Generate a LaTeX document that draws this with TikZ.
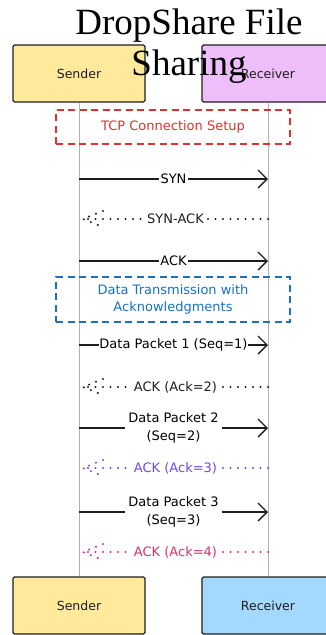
\documentclass[tikz,border=0pt]{standalone}
\usepackage{fontspec}
\setmainfont{Liberation Serif}
\newfontfamily\hand{DejaVu Sans}
\usetikzlibrary{arrows.meta}
\definecolor{ink}{HTML}{1E1E1E}
\definecolor{sendfill}{HTML}{FFE99A}
\definecolor{recvtop}{HTML}{EEBEFA}
\definecolor{recvbot}{HTML}{A5D8FF}
\definecolor{lifegray}{HTML}{B4B4B4}
\definecolor{tcpred}{HTML}{E03131}
\definecolor{datablue}{HTML}{1971C2}
\definecolor{ackpurple}{HTML}{7048E8}
\definecolor{ackpink}{HTML}{D6336C}
\begin{document}
\begin{tikzpicture}[x=1pt,y=-1pt,
  actor/.style={draw=ink, line width=1.4pt, rounded corners=1.5pt, minimum width=132pt, minimum height=57pt, inner sep=0pt, font=\hand\fontsize{12.5}{15}\selectfont, text=ink},
  lifeline/.style={draw=lifegray, line width=0.9pt},
  phase/.style={dash pattern=on 7pt off 4.5pt, line width=1.5pt, minimum width=234pt, inner sep=0pt, align=center, font=\hand\fontsize{13}{17}\selectfont},
  msg/.style={draw=ink, line width=1.4pt, -{Straight Barb[length=9pt,width=18pt,line width=1.4pt]}},
  ret/.style={line width=2.3pt, dash pattern=on 0pt off 7.5pt, line cap=round},
  lbl/.style={fill=white, inner sep=1.5pt, align=center, font=\hand\fontsize{13}{17.5}\selectfont},
]
\useasboundingbox (0,0) rectangle (326,635);

% actors
\node[actor, fill=sendfill] (st) at (79,73.5) {Sender};
\node[actor, fill=recvtop] (rt) at (268,73.5) {Receiver};
\node[actor, fill=sendfill] (sb) at (79,605.5) {Sender};
\node[actor, fill=recvbot] (rb) at (268,605.5) {Receiver};

% lifelines
\draw[lifeline] (st.south) -- (sb.north);
\draw[lifeline] (rt.south) -- (rb.north);

% title, drawn over the boxes
\node[anchor=north, inner sep=0pt, align=center, font=\fontsize{37}{41}\selectfont] (title) at (189,9) {DropShare File\\Sharing};

% phase boxes
\node[phase, draw=tcpred, text=tcpred, minimum height=34pt] (tcp) at (173,127) {TCP Connection Setup};
\node[phase, draw=datablue, text=datablue, minimum height=45pt] (data) at (173,299.5) {Data Transmission with\\Acknowledgments};

% message coordinates
\foreach \n/\y in {1/179,2/219,3/261,4/345,5/387,6/428,7/468,8/512,9/552}{
  \coordinate (s\n) at (79,\y);
  \coordinate (r\n) at (268,\y);
  \coordinate (t\n) at (83,\y);
}

% messages
\draw[msg] (s1) -- (r1) node[lbl, midway] {SYN};
\draw[ret, draw=ink] (r2) -- (t2) node[lbl, midway, text=ink] {SYN-ACK};
\draw[ret, draw=ink] ([shift={(20,-8)}]t2) -- (t2) -- ([shift={(20,8)}]t2);
\draw[msg] (s3) -- (r3) node[lbl, midway] {ACK};

\draw[msg] (s4) -- (r4) node[lbl, midway, inner sep=0.5pt] {Data Packet 1 (Seq=1)};
\draw[ret, draw=ink] (r5) -- (t5) node[lbl, midway, text=ink] {ACK (Ack=2)};
\draw[ret, draw=ink] ([shift={(20,-8)}]t5) -- (t5) -- ([shift={(20,8)}]t5);
\draw[msg] (s6) -- (r6) node[lbl, midway, inner sep=3pt] {Data Packet 2\\(Seq=2)};
\draw[ret, draw=ackpurple] (r7) -- (t7) node[lbl, midway, text=ackpurple] {ACK (Ack=3)};
\draw[ret, draw=ackpurple] ([shift={(20,-8)}]t7) -- (t7) -- ([shift={(20,8)}]t7);
\draw[msg] (s8) -- (r8) node[lbl, midway, inner sep=3pt] {Data Packet 3\\(Seq=3)};
\draw[ret, draw=ackpink] (r9) -- (t9) node[lbl, midway, text=ackpink] {ACK (Ack=4)};
\draw[ret, draw=ackpink] ([shift={(20,-8)}]t9) -- (t9) -- ([shift={(20,8)}]t9);
\end{tikzpicture}
\end{document}
